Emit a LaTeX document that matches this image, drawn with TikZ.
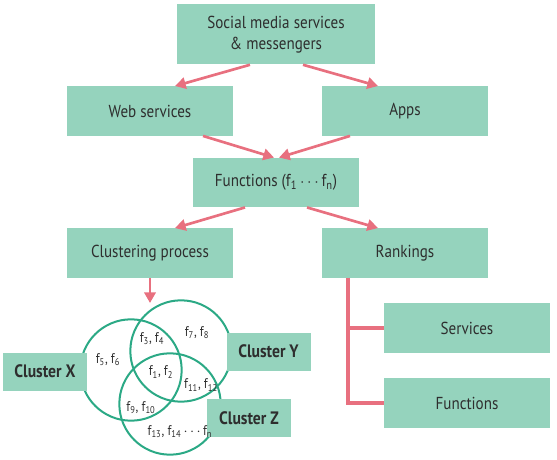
\documentclass[tikz,border=0pt]{standalone}
\usepackage{fontspec}
\setmainfont{PT Sans}[FakeStretch=0.87]
\usetikzlibrary{arrows.meta,calc,positioning}

\definecolor{boxgreen}{HTML}{95D3BD}
\definecolor{arrowpink}{HTML}{E8707F}
\definecolor{venngreen}{HTML}{2BA985}
\definecolor{textgray}{HTML}{2E2E2E}

\newcommand{\fs}[1]{f\textsubscript{#1}}

\begin{document}
\begin{tikzpicture}[x=0.75pt,y=-0.75pt,
	box/.style={rectangle,fill=boxgreen,text=textgray,minimum width=124.5pt,minimum height=37pt,
		align=center,inner sep=0pt,font=\fontsize{13}{16}\selectfont},
	clbox/.style={rectangle,fill=boxgreen,text=textgray,minimum width=63pt,minimum height=28.5pt,
		inner sep=0pt,font=\fontsize{13.5}{16}\selectfont\bfseries},
	venn/.style={circle,draw=venngreen,line width=1.5pt,minimum size=76pt,inner sep=0pt},
	flabel/.style={text=textgray,inner sep=0pt,font=\fontsize{10.5}{12}\selectfont},
	flow/.style={draw=arrowpink,line width=2pt,-{Triangle[length=8pt,width=8.5pt]}},
	branch/.style={draw=arrowpink,line width=2.5pt}]

\useasboundingbox (0,0) rectangle (557,460);

%Kaesten
\node[box,minimum width=148pt,minimum height=45pt]	(smm)	at (276,34.5)	{Social media services\\\& messengers};
\node[box]	(web)	at (150,111)	{Web services};
\node[box]	(apps)	at (405,111)	{Apps};
\node[box]	(func)	at (276,182.5)	{Functions (\fs{1}\,$\cdots$\,\fs{n})};
\node[box]	(clust)	at (150,253)	{Clustering process};
\node[box]	(rank)	at (405,253)	{Rankings};
\node[box]	(serv)	at (467,328)	{Services};
\node[box]	(funcs)	at (467,403)	{Functions};

%Venn-Diagramm
\node[venn]	(cX)	at (131,370)	{};
\node[venn]	(cY)	at (181,351)	{};
\node[venn]	(cZ)	at (170,404)	{};

\node[clbox]	(X)	at (45,371.5)	{Cluster X};
\node[clbox]	(Y)	at (268.5,351.5)	{Cluster Y};
\node[clbox]	(Z)	at (249,418)	{Cluster Z};

\node[flabel]	(f34)	at (152,339)	{\fs{3}, \fs{4}};
\node[flabel]	(f78)	at (197,333)	{\fs{7}, \fs{8}};
\node[flabel]	(f56)	at (108,360)	{\fs{5}, \fs{6}};
\node[flabel]	(f12)	at (161,372)	{\fs{1}, \fs{2}};
\node[flabel]	(f1112)	at (201,385)	{\fs{11}, \fs{12}};
\node[flabel]	(f910)	at (141,408)	{\fs{9}, \fs{10}};
\node[flabel]	(f13n)	at (180,432)	{\fs{13}, \fs{14}\,$\cdots$\,\fs{n}};

\coordinate	(vtop)	at (150,303);

%Pfeile
\path	($(smm.south)+(-26,0)$)	edge	[flow]	($(web.north)+(25,0)$)
		($(smm.south)+(27,0)$)	edge	[flow]	($(apps.north)+(-27,0)$)
		($(web.south)+(53,0)$)	edge	[flow]	($(func.north)+(-2,0)$)
		($(apps.south)+(-55,0)$)	edge	[flow]	($(func.north)+(3,0)$)
		($(func.south)+(-31,0)$)	edge	[flow]	($(clust.north)+(25,0)$)
		($(func.south)+(31,0)$)	edge	[flow]	($(rank.north)+(-27,0)$)
		(clust.south)	edge	[flow]	(vtop);

\draw[branch]	($(rank.south)+(-57,0)$)	|-	(serv.west);
\draw[branch]	($(rank.south)+(-57,0)$)	|-	(funcs.west);

\end{tikzpicture}
\end{document}
